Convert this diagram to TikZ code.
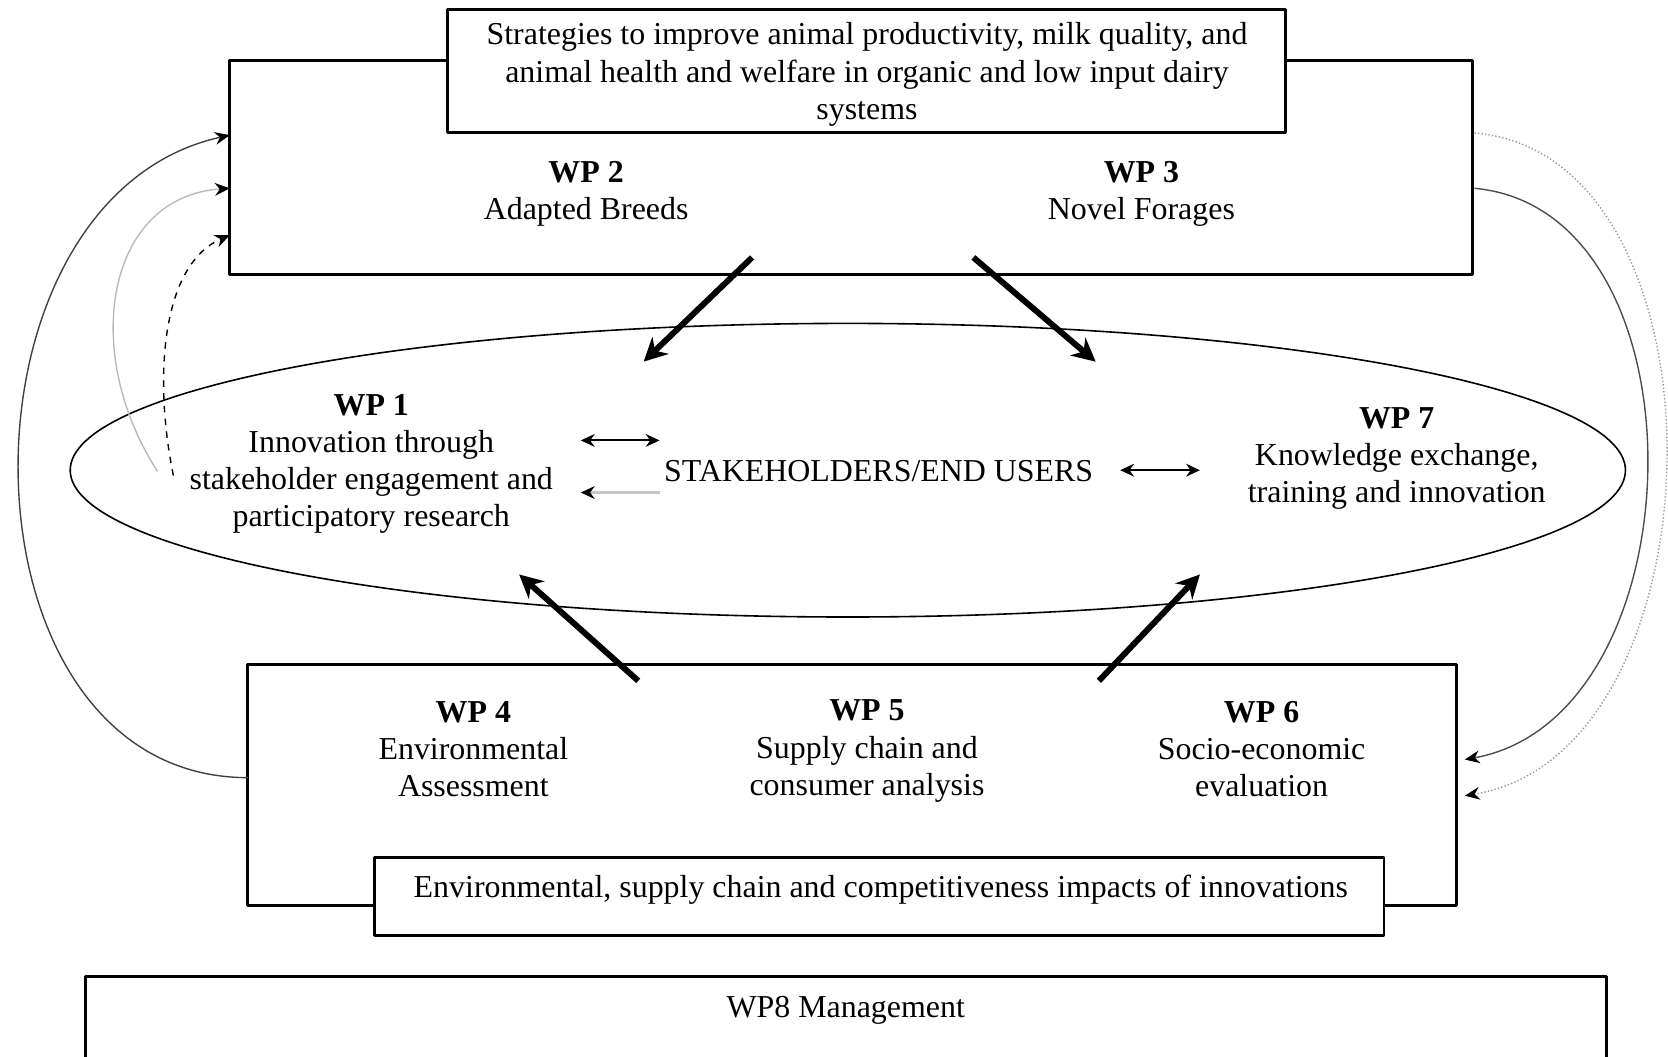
\documentclass[tikz,border=0pt]{standalone}
\usepackage{fontspec}
\setmainfont{Liberation Serif}
\usetikzlibrary{arrows.meta,shapes.geometric,fit}
\begin{document}
\begin{tikzpicture}[x=0.5pt,y=-0.5pt,>={Stealth[length=6.5pt,width=6pt]},line join=round,
	font=\fontsize{15}{17.5}\selectfont,
	box/.style={draw,line width=1.4pt,inner sep=0pt},
	lbl/.style={align=center,inner sep=0pt},
	bigarrow/.style={-{Stealth[length=11pt,width=11pt]},line width=2.8pt},
	pairarrow/.style={<->,line width=1pt},
	feedback/.style={-{Stealth[length=7pt,width=6pt,black]},line width=0.65pt}]
	\useasboundingbox (0,0) rectangle (1568,993);
	\clip (0,0) rectangle (1568,993);
	% stakeholder field
	\node[draw,ellipse,line width=0.75pt,minimum width=731pt,minimum height=138pt,inner sep=0pt] (field) at (797,442) {};
	% boxes
	\node[box,fit={(216,57) (1384,258)}] (topbox) {};
	\node[box,fill=white,fit={(421,9) (1208,125)}] (aimbox) {};
	\node[box,fit={(233,625) (1369,851)}] (botbox) {};
	\node[box,fill=white,fit={(352,806) (1301,879)}] (impbox) {};
	\node[box,fit={(80,918) (1510,1030)}] (wp8box) {};
	% texts
	\node[lbl] (aims) at (815,70) {Strategies to improve animal productivity, milk quality, and\\animal health and welfare in organic and low input dairy\\systems};
	\node[lbl] (wp2) at (551,182) {\textbf{WP 2}\\Adapted Breeds};
	\node[lbl] (wp3) at (1073,182) {\textbf{WP 3}\\Novel Forages};
	\node[lbl] (wp1) at (349,436) {\textbf{WP 1}\\Innovation through\\stakeholder engagement and\\participatory research};
	\node[lbl] (users) at (826,443) {STAKEHOLDERS/END USERS};
	\node[lbl] (wp7) at (1313,431) {\textbf{WP 7}\\Knowledge exchange,\\training and innovation};
	\node[lbl] (wp4) at (445,704) {\textbf{WP 4}\\Environmental\\Assessment};
	\node[lbl] (wp5) at (815,706) {\textbf{WP 5}\\Supply chain and\\consumer analysis};
	\node[lbl] (wp6) at (1186,704) {\textbf{WP 6}\\Socio-economic\\evaluation};
	\node[lbl] (impacts) at (828,836) {Environmental, supply chain and competitiveness impacts of innovations};
	\node[lbl] (wp8) at (795,950) {WP8 Management};
	% arrow ends
	\coordinate (wp2out) at (707,242);
	\coordinate (wp2in) at (605,340);
	\coordinate (wp3out) at (915,242);
	\coordinate (wp3in) at (1030,340);
	\coordinate (wp4out) at (600,640);
	\coordinate (wp4in) at (488,540);
	\coordinate (wp6out) at (1033,640);
	\coordinate (wp6in) at (1128,540);
	\coordinate (p1a) at (546,414);
	\coordinate (p1b) at (620,414);
	\coordinate (p2a) at (620,463);
	\coordinate (p2b) at (546,463);
	\coordinate (p7a) at (1053,442);
	\coordinate (p7b) at (1128,442);
	\draw[bigarrow] (wp2out) -- (wp2in);
	\draw[bigarrow] (wp3out) -- (wp3in);
	\draw[bigarrow] (wp4out) -- (wp4in);
	\draw[bigarrow] (wp6out) -- (wp6in);
	\draw[pairarrow] (p1a) -- (p1b);
	\draw[-{Stealth[length=6.5pt,width=6pt,black]},gray!45,line width=1pt] (p2a) -- (p2b);
	\draw[pairarrow] (p7a) -- (p7b);
	% feedback loops, left
	\coordinate (l1s) at (233,731);
	\coordinate (l1e) at (216,127);
	\coordinate (l2s) at (148,443);
	\coordinate (l2e) at (216,177);
	\coordinate (l3s) at (163,447);
	\coordinate (l3e) at (216,221);
	\draw[feedback,black!75] (l1s) .. controls +(-280,0) and +(-270,60) .. (l1e);
	\draw[feedback,gray!55] (l2s) .. controls +(-73,-113) and +(-116,8) .. (l2e);
	\draw[feedback,dashed] (l3s) .. controls +(-18,-87) and +(-66,29) .. (l3e);
	% feedback loops, right
	\coordinate (r1s) at (1386,125);
	\coordinate (r1e) at (1377,748);
	\coordinate (r2s) at (1386,177);
	\coordinate (r2e) at (1377,714);
	\draw[feedback,gray!80,densely dotted] (r1s) .. controls +(246,20) and +(246,-40) .. (r1e);
	\draw[feedback,black!70] (r2s) .. controls +(222,20) and +(222,-40) .. (r2e);
\end{tikzpicture}
\end{document}
